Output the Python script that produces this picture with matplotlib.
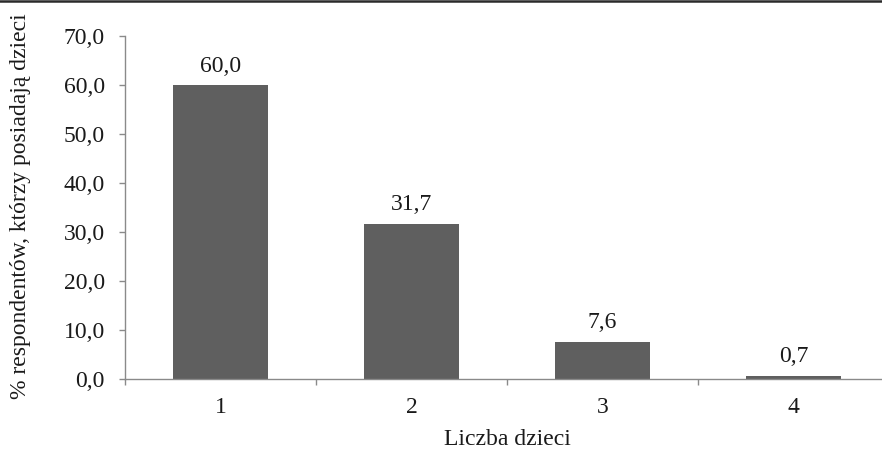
import matplotlib
matplotlib.use("Agg")
import matplotlib.pyplot as plt
from matplotlib.lines import Line2D
import numpy as np

categories = ["1", "2", "3", "4"]
values = [60.0, 31.7, 7.6, 0.7]
y_ticks = [0, 10, 20, 30, 40, 50, 60, 70]

plt.rcParams["font.family"] = ["Liberation Serif", "DejaVu Serif"]

fig = plt.figure(figsize=(8.82, 4.51), dpi=100)
W, H = 882, 451
ax = fig.add_axes([125 / W, 72 / H, (889 - 125) / W, (379 - 36) / H])

x = np.arange(len(categories))
ax.bar(x, values, width=0.5, color="#5f5f5f", zorder=2)

FS = 17
TXT = "#1a1a1a"

for xi, v in zip(x, values):
    ax.annotate(f"{v:.1f}".replace(".", ","), (xi, v), xytext=(0, 6),
                textcoords="offset points", ha="center", va="bottom",
                fontsize=FS, color=TXT)

ax.set_xlim(-0.5, len(categories) - 0.5)
ax.set_ylim(0, 70)

ax.set_yticks(y_ticks)
ax.set_yticklabels([f"{t:.1f}".replace(".", ",") for t in y_ticks])
ax.set_xticks(x)
ax.set_xticklabels(categories)
ax.set_xticks(np.arange(-0.5, len(categories)), minor=True)

spine_c = "#8a8a8a"
for s in ["top", "right"]:
    ax.spines[s].set_visible(False)
for s in ["left", "bottom"]:
    ax.spines[s].set_color(spine_c)
    ax.spines[s].set_linewidth(1.0)

ax.tick_params(axis="y", which="major", length=4.5, width=1.0, color=spine_c,
               labelsize=FS, labelcolor=TXT, pad=10)
ax.tick_params(axis="x", which="major", length=0, labelsize=FS,
               labelcolor=TXT, pad=13)
ax.tick_params(axis="x", which="minor", length=4.5, width=1.0, color=spine_c)

ax.set_xlabel("Liczba dzieci", fontsize=FS, color=TXT, labelpad=8)
fig.text(21 / W, 1 - 206 / H, "% respondentów, którzy posiadają dzieci",
         rotation=90, ha="center", va="center", fontsize=FS, color=TXT)

# frame line across the top edge
fig.add_artist(Line2D([0, 1], [1 - 1.2 / H, 1 - 1.2 / H], transform=fig.transFigure,
                      color="#2a2a2a", linewidth=1.8))

fig.savefig("out.png", dpi=100)
